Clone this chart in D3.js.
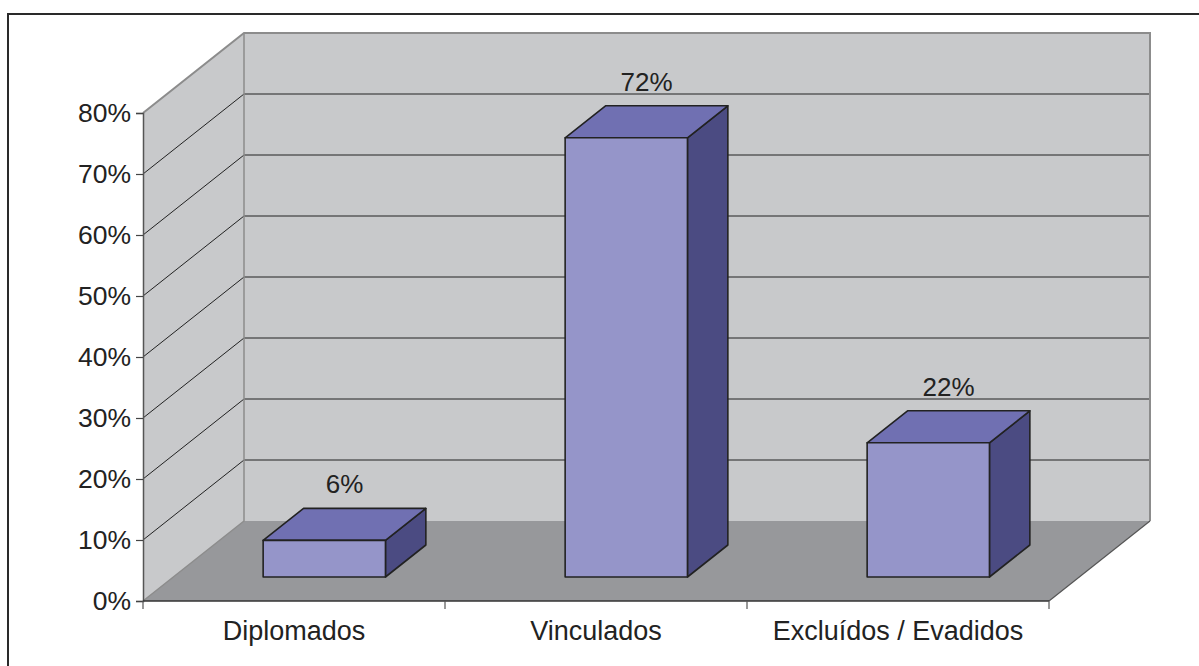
<!DOCTYPE html>
<html>
<head>
<meta charset="utf-8">
<script src="https://cdn.jsdelivr.net/npm/d3@7/dist/d3.min.js"></script>
<style>
  html, body { margin: 0; padding: 0; background: #fff; }
  svg { display: block; font-family: "Liberation Sans", Arial, sans-serif; }
</style>
</head>
<body>
<svg id="chart" width="1199" height="666"></svg>
<script>
// Data
const categories = ["Diplomados", "Vinculados", "Excluídos / Evadidos"];
const values = [0.06, 0.72, 0.22];
const valueLabels = ["6%", "72%", "22%"];
const yTicks = [0, 0.1, 0.2, 0.3, 0.4, 0.5, 0.6, 0.7, 0.8];

const svg = d3.select("#chart");

// Plot frame (front plane) and oblique depth offset
const x0 = 143, x1 = 1049;
const depthX = 101, depthY = -80;

const x = d3.scaleBand().domain(categories).range([x0, x1]).padding(0);
const y = d3.scaleLinear().domain([0, 0.8]).range([601, 113]);

// project a front-plane point to a depth fraction d (0 = front, 1 = back)
const P = (px, py, d) => [px + d * depthX, py + d * depthY];
const poly = pts => "M" + pts.map(p => p.join(",")).join("L") + "Z";

// Outer chart border
svg.append("rect")
  .attr("x", 8).attr("y", 14).attr("width", 1240).attr("height", 700)
  .attr("fill", "none").attr("stroke", "#2a2a2a").attr("stroke-width", 2);

const wallFill = "#c8c9cb", floorFill = "#97989b", edge = "#8c8c8c";
const yTop = y(0.8), yBase = y(0);

// side wall
svg.append("path")
  .attr("d", poly([[x0, yBase], [x0, yTop], P(x0, yTop, 1), P(x0, yBase, 1)]))
  .attr("fill", wallFill).attr("stroke", "none");
// back wall
svg.append("path")
  .attr("d", poly([P(x0, yBase, 1), P(x0, yTop, 1), P(x1, yTop, 1), P(x1, yBase, 1)]))
  .attr("fill", wallFill).attr("stroke", "none");
// floor
svg.append("path")
  .attr("d", poly([[x0, yBase], [x1, yBase], P(x1, yBase, 1), P(x0, yBase, 1)]))
  .attr("fill", floorFill).attr("stroke", "none");

// gridlines on side and back walls
const grid = yTicks.filter(t => t > 0 && t < 0.8);
svg.append("g").selectAll("path").data(grid).join("path")
  .attr("d", t => "M" + [x0, y(t)] + "L" + P(x0, y(t), 1) + "L" + P(x1, y(t), 1))
  .attr("fill", "none").attr("stroke", "#222").attr("stroke-width", 1);

// wall outlines
svg.append("path")
  .attr("d", "M" + [x0, yTop] + "L" + P(x0, yTop, 1) + "L" + P(x1, yTop, 1) + "L" + P(x1, yBase, 1))
  .attr("fill", "none").attr("stroke", edge).attr("stroke-width", 2);
svg.append("path")
  .attr("d", "M" + P(x0, yTop, 1) + "L" + P(x0, yBase, 1) + "L" + [x0, yBase])
  .attr("fill", "none").attr("stroke", edge).attr("stroke-width", 1.5);
// floor right edge
svg.append("path")
  .attr("d", "M" + [x1, yBase] + "L" + P(x1, yBase, 1))
  .attr("fill", "none").attr("stroke", "#555").attr("stroke-width", 1.2);

// Value axis
const yAxis = d3.axisLeft(y).tickValues(yTicks).tickFormat(d3.format(".0%"))
  .tickSize(7).tickPadding(5);
const gy = svg.append("g").attr("transform", `translate(${x0},0)`).call(yAxis);
gy.select(".domain").attr("stroke", "#555").attr("stroke-width", 1.5);
gy.selectAll(".tick line").attr("stroke", "#444").attr("stroke-width", 1.2);
gy.selectAll(".tick text").attr("font-size", 26.5).attr("fill", "#222")
  .attr("font-family", "'Liberation Sans', Arial, sans-serif");

// Category axis
const gx = svg.append("g").attr("transform", `translate(0,${yBase})`);
gx.append("line").attr("x1", x0).attr("x2", x1).attr("stroke", "#333").attr("stroke-width", 1.5);
const boundaries = [x0].concat(categories.map(c => x(c) + x.bandwidth()));
gx.selectAll("line.tk").data(boundaries).join("line").attr("class", "tk")
  .attr("x1", d => d).attr("x2", d => d).attr("y1", 0).attr("y2", 8)
  .attr("stroke", "#555").attr("stroke-width", 1.2);
gx.selectAll("text").data(categories).join("text")
  .attr("x", d => x(d) + x.bandwidth() / 2).attr("y", 39)
  .attr("text-anchor", "middle").attr("font-size", 27).attr("fill", "#222")
  .text(d => d);

// Bars
const barFrac = 0.405, d0 = 0.30, d1 = 0.70;
const bars = svg.append("g");
categories.forEach((c, i) => {
  const w = x.bandwidth() * barFrac;
  const bx0 = x(c) + (x.bandwidth() - w) / 2, bx1 = bx0 + w;
  const yb = y(0), yt = y(values[i]);
  const g = bars.append("g").attr("stroke", "#222").attr("stroke-width", 1.6).attr("stroke-linejoin", "round");
  // side face
  g.append("path").attr("fill", "#4b4b82")
    .attr("d", poly([P(bx1, yb, d0), P(bx1, yt, d0), P(bx1, yt, d1), P(bx1, yb, d1)]));
  // top face
  g.append("path").attr("fill", "#7070b2")
    .attr("d", poly([P(bx0, yt, d0), P(bx1, yt, d0), P(bx1, yt, d1), P(bx0, yt, d1)]));
  // front face
  g.append("path").attr("fill", "#9595c9")
    .attr("d", poly([P(bx0, yb, d0), P(bx1, yb, d0), P(bx1, yt, d0), P(bx0, yt, d0)]));
  // value label above the top face
  const lp = P((bx0 + bx1) / 2, yt, (d0 + d1) / 2);
  svg.append("text")
    .attr("x", lp[0]).attr("y", P(0, yt, d1)[1] - 15)
    .attr("text-anchor", "middle").attr("font-size", 26).attr("fill", "#222")
    .text(valueLabels[i]);
});
</script>
</body>
</html>
